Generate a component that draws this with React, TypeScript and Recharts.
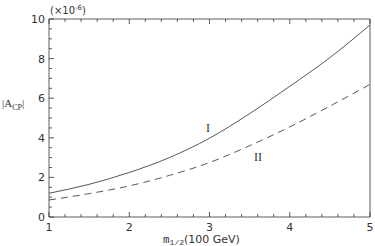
import React from 'react';
import { LineChart, Line, XAxis, YAxis } from 'recharts';

const mValues = [1, 1.5, 2, 2.5, 3, 3.5, 4, 4.5, 5];
const curveI = [1.2, 1.65, 2.25, 3.0, 3.98, 5.22, 6.6, 8.05, 9.7];
const curveII = [0.86, 1.18, 1.57, 2.1, 2.75, 3.6, 4.55, 5.6, 6.7];

const xTicks = [1, 1.2, 1.4, 1.6, 1.8, 2, 2.2, 2.4, 2.6, 2.8, 3, 3.2, 3.4, 3.6, 3.8, 4, 4.2, 4.4, 4.6, 4.8, 5];
const xMajor = [1, 2, 3, 4, 5];
const yTicks = [0, 0.5, 1, 1.5, 2, 2.5, 3, 3.5, 4, 4.5, 5, 5.5, 6, 6.5, 7, 7.5, 8, 8.5, 9, 9.5, 10];
const yMajor = [0, 2, 4, 6, 8, 10];

const data = mValues.map((m, i) => ({ m, I: curveI[i], II: curveII[i] }));

const AX = '#333';
const TXT = '#333';
const FONT = '"DejaVu Sans", sans-serif';

const isMajor = (v: number, list: number[]) => list.some((t) => Math.abs(t - v) < 1e-6);

const BottomTick = (props: any) => {
  const { x, y, payload } = props;
  const major = isMajor(payload.value, xMajor);
  const len = major ? 5 : 3;
  return (
    <g>
      <line x1={x} x2={x} y1={y} y2={y - len} stroke={AX} strokeWidth={0.8} />
      {major && (
        <text x={x} y={y + 14} textAnchor="middle" fontSize={11} fontFamily={FONT} fill={TXT}>
          {payload.value}
        </text>
      )}
    </g>
  );
};

const TopTick = (props: any) => {
  const { x, y, payload } = props;
  const major = isMajor(payload.value, xMajor);
  const len = major ? 5 : 3;
  return <line x1={x} x2={x} y1={y} y2={y + len} stroke={AX} strokeWidth={0.8} />;
};

const LeftTick = (props: any) => {
  const { x, y, payload } = props;
  const major = isMajor(payload.value, yMajor);
  const len = major ? 5 : 3;
  return (
    <g>
      <line x1={x} x2={x + len} y1={y} y2={y} stroke={AX} strokeWidth={0.8} />
      {major && (
        <text x={x - 4} y={y + 4} textAnchor="end" fontSize={11} fontFamily={FONT} fill={TXT}>
          {payload.value}
        </text>
      )}
    </g>
  );
};

const RightTick = (props: any) => {
  const { x, y, payload } = props;
  const major = isMajor(payload.value, yMajor);
  const len = major ? 5 : 3;
  return <line x1={x} x2={x - len} y1={y} y2={y} stroke={AX} strokeWidth={0.8} />;
};

export default function App() {
  return (
    <div style={{ position: 'absolute', left: 0, top: 0, width: 375, height: 246, background: '#fff' }}>
      <LineChart
        width={375}
        height={246}
        data={data}
        margin={{ top: 0, right: 0, bottom: 0, left: 0 }}
      >
        <XAxis
          xAxisId="b"
          dataKey="m"
          type="number"
          domain={[1, 5]}
          ticks={xTicks}
          interval={0}
          height={29}
          tickSize={0}
          tickMargin={0}
          axisLine={{ stroke: AX, strokeWidth: 0.8 }}
          tickLine={false}
          tick={<BottomTick />}
        />
        <XAxis
          xAxisId="t"
          orientation="top"
          dataKey="m"
          type="number"
          domain={[1, 5]}
          ticks={xTicks}
          interval={0}
          height={19}
          tickSize={0}
          tickMargin={0}
          axisLine={{ stroke: AX, strokeWidth: 0.8 }}
          tickLine={false}
          tick={<TopTick />}
        />
        <YAxis
          yAxisId="l"
          type="number"
          domain={[0, 10]}
          ticks={yTicks}
          interval={0}
          width={49}
          tickSize={0}
          tickMargin={0}
          axisLine={{ stroke: AX, strokeWidth: 0.8 }}
          tickLine={false}
          tick={<LeftTick />}
        />
        <YAxis
          yAxisId="r"
          orientation="right"
          type="number"
          domain={[0, 10]}
          ticks={yTicks}
          interval={0}
          width={5}
          tickSize={0}
          tickMargin={0}
          axisLine={{ stroke: AX, strokeWidth: 0.8 }}
          tickLine={false}
          tick={<RightTick />}
        />
        <Line
          xAxisId="b"
          yAxisId="l"
          type="monotone"
          dataKey="I"
          stroke="#444"
          strokeWidth={0.9}
          dot={false}
          isAnimationActive={false}
        />
        <Line
          xAxisId="b"
          yAxisId="l"
          type="monotone"
          dataKey="II"
          stroke="#444"
          strokeWidth={0.9}
          strokeDasharray="7 5"
          dot={false}
          isAnimationActive={false}
        />
      </LineChart>
      <svg
        width={375}
        height={246}
        style={{ position: 'absolute', left: 0, top: 0, pointerEvents: 'none' }}
      >
        <text x={50} y={14} fontSize={10} fontFamily={FONT} fill={TXT}>
          (×10
          <tspan dy={-4} fontSize={7}>-6</tspan>
          <tspan dy={4}>)</tspan>
        </text>
        <text x={2} y={107} fontSize={11} fontFamily='"Liberation Serif", serif' fill={TXT}>
          |A
          <tspan dy={3} fontSize={8}>CP</tspan>
          <tspan dy={-3}>|</tspan>
        </text>
        <text x={163} y={243} fontSize={11} fontFamily='"Liberation Mono", monospace' fill={TXT}>
          m
          <tspan dy={2} fontSize={8}>1/2</tspan>
          <tspan dy={-2} fontFamily={FONT}>(100 GeV)</tspan>
        </text>
        <text x={208} y={132} textAnchor="middle" fontSize={12} fontFamily='"Liberation Serif", serif' fill={TXT}>
          I
        </text>
        <text x={258} y={161} textAnchor="middle" fontSize={12} fontFamily='"Liberation Serif", serif' fill={TXT}>
          II
        </text>
      </svg>
    </div>
  );
}
